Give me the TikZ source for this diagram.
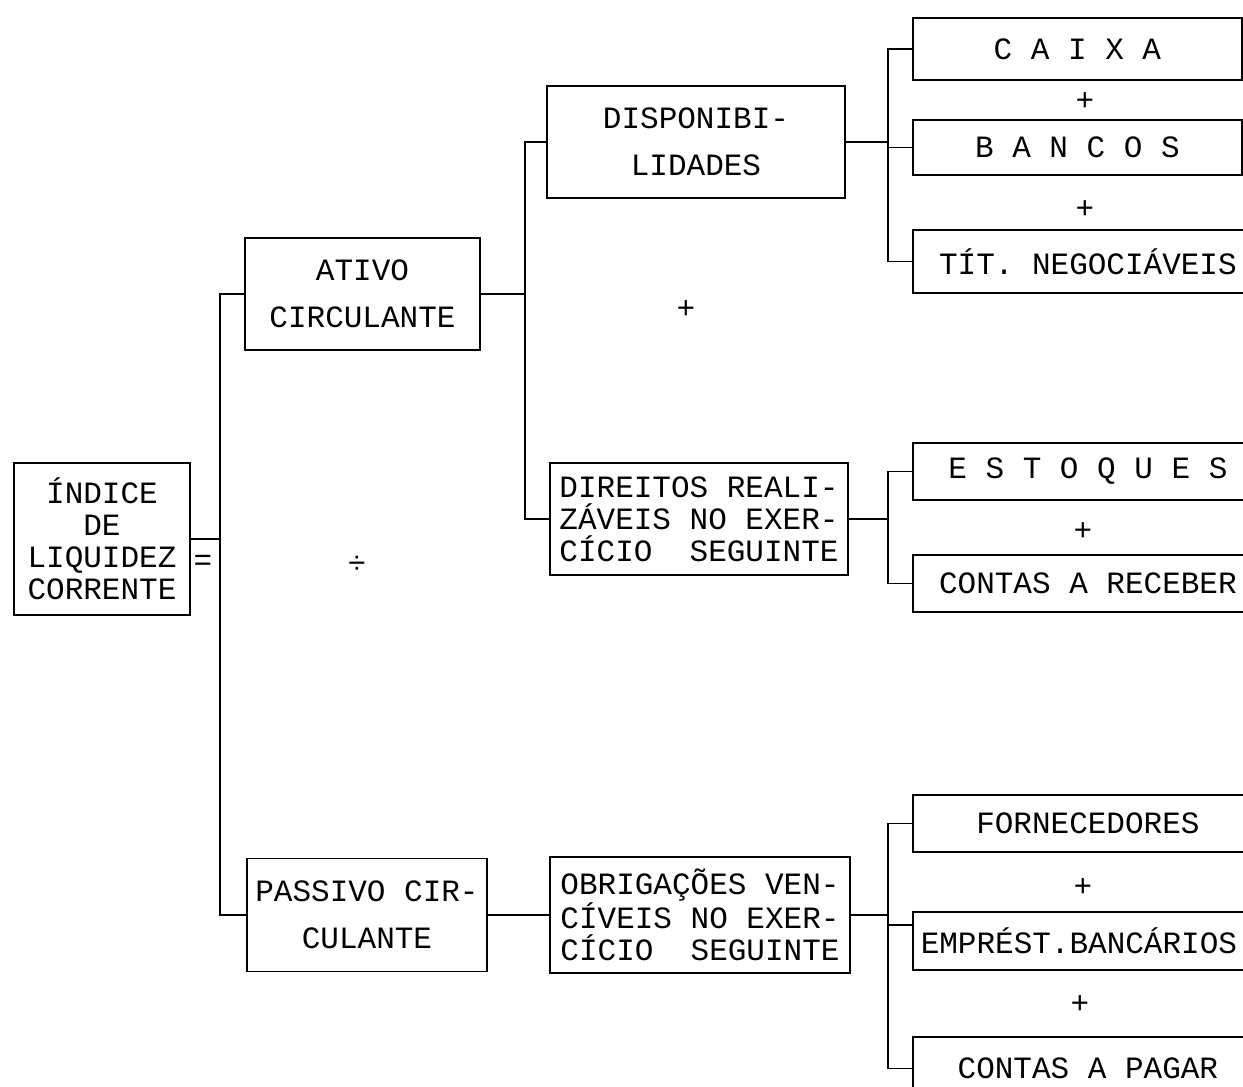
\documentclass[tikz,border=0pt]{standalone}
\usepackage{fontspec}
\newfontfamily\twfont{Liberation Mono}
\usepackage{tikz}
\usetikzlibrary{positioning, calc}

\begin{document}
\begin{tikzpicture}[
    x=0.5pt, y=-0.5pt,
    acctbox/.style={rectangle, draw, line width=0.9pt, inner sep=0pt, align=center, font=\twfont\fontsize{15.5}{16}\selectfont},
    itembox/.style={acctbox, anchor=west, minimum height=#1},
    link/.style={line width=0.9pt},
    opsign/.style={font=\twfont\fontsize{15.5}{16}\selectfont, inner sep=0pt},
]

\path[use as bounding box, clip] (0,0) rectangle (1243,1087);

% left side
\node[acctbox, minimum width=88pt, minimum height=76pt] (indice) at (102,539) {ÍNDICE\\DE\\LIQUIDEZ\\CORRENTE};
\node[opsign] (eq) at (203,563) {=};

\node[acctbox, minimum width=117.5pt, minimum height=56pt] (ativo) at (362.5,294) {ATIVO\\[7.5pt]CIRCULANTE};
\node[acctbox, minimum width=120pt, minimum height=56.5pt] (passivo) at (367,915) {PASSIVO CIR-\\[7.5pt]CULANTE};
\node[opsign] (divsign) at (357,565) {÷};

% middle column
\node[acctbox, minimum width=149pt, minimum height=56pt] (disp) at (696,142) {DISPONIBI-\\[7.5pt]LIDADES};
\node[acctbox, minimum width=149pt, minimum height=56pt] (direitos) at (699,519) {DIREITOS REALI-\\ZÁVEIS NO EXER-\\CÍCIO~~SEGUINTE};
\node[acctbox, minimum width=150pt, minimum height=58pt] (obrig) at (700,915) {OBRIGAÇÕES VEN-\\CÍVEIS NO EXER-\\CÍCIO~~SEGUINTE};
\node[opsign] (plusmid) at (686,310) {+};

% right column
\node[itembox=31pt, minimum width=164.5pt] (caixa) at (912,49) {C A I X A};
\node[opsign] (plusa) at (1085,102) {+};
\node[itembox=27.5pt, minimum width=164.5pt] (bancos) at (912,147.5) {B A N C O S};
\node[opsign] (plusb) at (1085,210) {+};
\node[itembox=31.5pt, minimum width=175pt] (titulos) at (912,261.5) {TÍT. NEGOCIÁVEIS};

\node[itembox=28.5pt, minimum width=175pt] (estoques) at (912,471.5) {E S T O Q U E S};
\node[opsign] (plusc) at (1083,532) {+};
\node[itembox=28.5pt, minimum width=175pt] (receber) at (912,583.5) {CONTAS A RECEBER};

\node[itembox=28.5pt, minimum width=175pt] (fornec) at (912,823.5) {FORNECEDORES};
\node[opsign] (plusd) at (1083,888) {+};
\node[itembox=29pt, minimum width=166pt] (emprest) at (912,941) {EMPRÉST.BANCÁRIOS};
\node[opsign] (pluse) at (1080,1005) {+};
\node[itembox=31.5pt, minimum width=175pt] (pagar) at (912,1068.5) {CONTAS A PAGAR};

% junctions
\coordinate (j0) at (220,539);
\coordinate (j1) at (525,294);
\coordinate (j2) at (888,142);
\coordinate (j3) at (888,519);
\coordinate (j4) at (888,915);

\draw[link] (indice.east) -- (j0);
\draw[link] (ativo.west) -| (j0);
\draw[link] (passivo.west) -| (j0);

\draw[link] (ativo.east) -- (j1);
\draw[link] (disp.west) -| (j1);
\draw[link] (direitos.west) -| (j1);

\draw[link] (disp.east) -- (j2);
\draw[link] (caixa.west) -| (j2);
\draw[link] (bancos.west) -| (j2);
\draw[link] (titulos.west) -| (j2);

\draw[link] (direitos.east) -- (j3);
\draw[link] (estoques.west) -| (j3);
\draw[link] (receber.west) -| (j3);

\draw[link] (passivo.east) -- (obrig.west);
\draw[link] (obrig.east) -- (j4);
\draw[link] (fornec.west) -| (j4);
\draw[link] ([yshift=8pt]emprest.west) -| (j4);
\draw[link] (pagar.west) -| (j4);

\end{tikzpicture}
\end{document}
